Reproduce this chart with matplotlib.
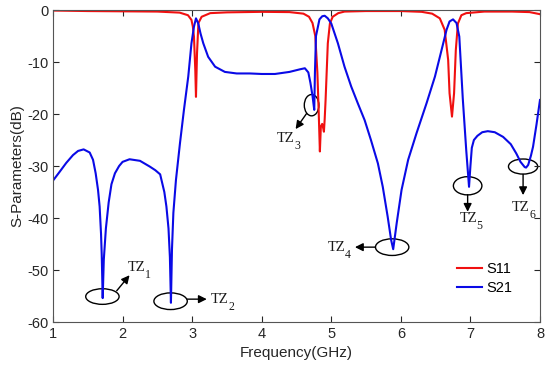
import matplotlib
matplotlib.use('Agg')
import matplotlib.pyplot as plt
from matplotlib.patches import Ellipse

# values
s11_f = [1.0, 1.5, 2.0, 2.5, 2.82, 2.94, 2.99, 3.01, 3.026, 3.045, 3.055, 3.07, 3.09, 3.136,
         3.26, 3.5, 4.0, 4.4, 4.6, 4.68, 4.73, 4.77, 4.80, 4.82, 4.836, 4.85, 4.869, 4.885,
         4.894, 4.905, 4.918, 4.95, 4.98, 5.02, 5.1, 5.19, 5.5, 6.0, 6.3, 6.45, 6.56, 6.63,
         6.68, 6.70, 6.735, 6.765, 6.79, 6.82, 6.87, 6.94, 7.2, 7.6, 7.85, 8.0]
s11_db = [-0.1, -0.2, -0.25, -0.3, -0.5, -1.0, -1.9, -3.2, -5.1, -11.5, -16.7, -8.3, -2.5,
          -1.3, -0.6, -0.45, -0.35, -0.4, -0.7, -1.3, -2.5, -5, -12, -20, -27.2, -22.4, -21.9,
          -22.8, -23.4, -21, -17.3, -6.4, -2.6, -1.3, -0.6, -0.3, -0.2, -0.2, -0.35, -0.7, -1.6,
          -3.8, -9.6, -16, -20.5, -16, -7.7, -2.6, -1.0, -0.6, -0.3, -0.3, -0.4, -0.8]

s21_f = [1.0, 1.096, 1.19, 1.287, 1.36, 1.44, 1.527, 1.575, 1.613, 1.647, 1.67, 1.69, 1.70,
         1.714, 1.73, 1.76, 1.8, 1.84, 1.89, 1.95, 2.0, 2.1, 2.25, 2.39, 2.47, 2.54, 2.6,
         2.63, 2.66, 2.68, 2.695, 2.71, 2.73, 2.767, 2.825, 2.882, 2.944, 2.99, 3.026, 3.055,
         3.088, 3.12, 3.16, 3.23, 3.33, 3.47, 3.64, 3.83, 4.0, 4.19, 4.4, 4.55, 4.62, 4.67,
         4.70, 4.73, 4.755, 4.765, 4.78, 4.83, 4.87, 4.905, 4.95, 5.0, 5.095, 5.19, 5.286,
         5.38, 5.48, 5.57, 5.67, 5.74, 5.81, 5.86, 5.89, 5.94, 6.01, 6.105, 6.225, 6.37, 6.49,
         6.585, 6.657, 6.70, 6.75, 6.8, 6.84, 6.89, 6.94, 6.98, 7.0, 7.02, 7.05, 7.1, 7.17,
         7.25, 7.35, 7.47, 7.58, 7.66, 7.72, 7.78, 7.8, 7.83, 7.87, 7.9, 7.95, 8.0]
s21_db = [-32.8, -31.1, -29.4, -27.9, -27.1, -26.8, -27.4, -28.8, -31.4, -34.6, -37.8, -43,
          -47, -55.4, -48, -42, -37, -33.5, -31.4, -30.0, -29.2, -28.7, -29.0, -30.1, -30.8,
          -31.6, -35, -37.8, -42, -47.5, -56.3, -46, -39, -32.7, -25.6, -19.2, -12.8, -6.4,
          -3.2, -1.6, -2.6, -4.5, -6.4, -9.0, -10.9, -11.9, -12.2, -12.2, -12.3, -12.3, -11.9,
          -11.4, -11.2, -12.0, -14, -16.5, -19.2, -12, -5, -1.8, -1.2, -1.1, -1.6, -2.6, -6.4,
          -10.9, -14.7, -17.9, -21.2, -25, -29.5, -34, -39.7, -44.2, -46.0, -41, -34.6, -28.8,
          -23.7, -17.9, -12.8, -7.7, -3.8, -2.2, -1.8, -2.5, -5.1, -17, -27, -34, -30, -26.5,
          -25, -24.2, -23.5, -23.3, -23.5, -24.4, -25.8, -27.6, -29.2, -30.2, -30.3, -29.8,
          -28, -26.3, -22, -17.3]

# transmission zeros: label, ellipse centre, ellipse size, arrow start, arrow end, text position
tz_labels = ['1', '2', '3', '4', '5', '6']
tz_centre = [(1.71, -55.1), (2.69, -56.0), (4.717, -18.3), (5.875, -45.6), (6.96, -33.8), (7.757, -30.1)]
tz_size = [(0.48, 3.0), (0.48, 3.2), (0.21, 4.1), (0.48, 3.2), (0.41, 3.5), (0.42, 2.9)]
tz_from = [(1.915, -54.0), (2.93, -55.6), (4.645, -19.9), (5.636, -45.6), (6.96, -35.5), (7.757, -31.6)]
tz_to = [(2.1, -51.0), (3.21, -55.6), (4.487, -22.9), (5.34, -45.6), (6.96, -38.8), (7.757, -35.6)]
tz_text = [(2.08, -49.5), (3.27, -55.6), (4.22, -24.7), (4.95, -45.6), (6.84, -40.0), (7.6, -37.9)]

plt.rcParams['font.family'] = ['Liberation Sans', 'DejaVu Sans']
plt.rcParams['axes.unicode_minus'] = False

fig = plt.figure(figsize=(5.5, 3.71), dpi=100)
ax = fig.add_axes([0.0964, 0.132, 0.8854, 0.841])

ax.plot(s11_f, s11_db, color='#f01010', lw=1.5, label='S11')
ax.plot(s21_f, s21_db, color='#0a0ae6', lw=1.5, label='S21')

for i in range(len(tz_labels)):
    ax.add_patch(Ellipse(tz_centre[i], tz_size[i][0], tz_size[i][1], fill=False,
                         edgecolor='black', lw=1.0))
    ax.annotate('', xy=tz_to[i], xytext=tz_from[i],
                arrowprops=dict(arrowstyle='-|>', color='black', lw=1.0, mutation_scale=12,
                                shrinkA=0, shrinkB=0))
    ax.text(tz_text[i][0], tz_text[i][1], 'TZ', family='Liberation Serif', fontsize=10.5,
            va='center', ha='left', color='#1a1a1a')
    ax.annotate(tz_labels[i], xy=tz_text[i], xytext=(12.3, -5.5), textcoords='offset points',
                family='Liberation Serif', fontsize=8.5, va='center', ha='left',
                color='#1a1a1a')

ax.set_xlim(1, 8)
ax.set_ylim(-60, 0)
ax.set_xticks([1, 2, 3, 4, 5, 6, 7, 8])
ax.set_yticks([-60, -50, -40, -30, -20, -10, 0])
ax.tick_params(direction='in', top=True, right=True, labelsize=10.5, colors='#262626',
               length=4, width=0.8)
for sp in ax.spines.values():
    sp.set_color('#555555')
ax.set_xlabel('Frequency(GHz)', fontsize=11, color='#262626', labelpad=4)
ax.set_ylabel('S-Parameters(dB)', fontsize=11, color='#262626', labelpad=2)

ax.legend(frameon=False, loc='upper left', bbox_to_anchor=(0.815, 0.215), fontsize=10.5,
          handlelength=1.7, handletextpad=0.3, labelspacing=0.3, borderpad=0)

plt.savefig('out.png', dpi=100)
